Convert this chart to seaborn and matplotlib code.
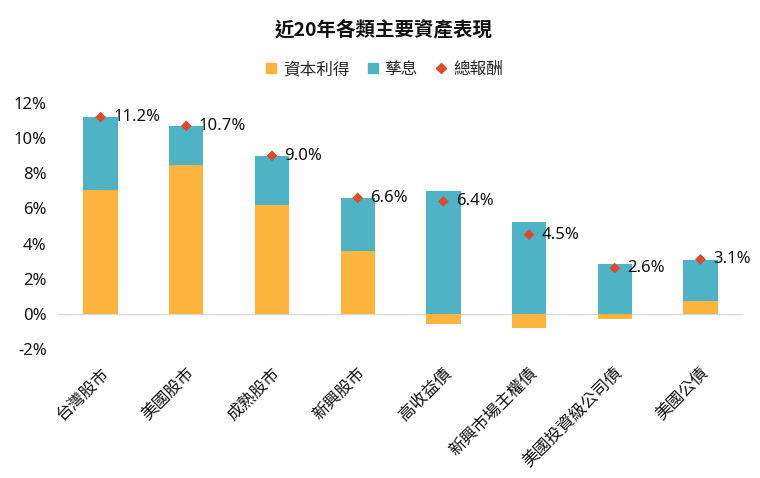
import numpy as np
import pandas as pd
import matplotlib
matplotlib.use("Agg")
import matplotlib.pyplot as plt
import seaborn as sns
from matplotlib.lines import Line2D

# data (percent)
categories = ["台灣股市", "美國股市", "成熟股市", "新興股市", "高收益債", "新興市場主權債", "美國投資級公司債", "美國公債"]
capital_gain = [7.05, 8.45, 6.2, 3.55, -0.6, -0.8, -0.3, 0.75]
income = [4.15, 2.25, 2.8, 3.05, 7.0, 5.2, 2.85, 2.3]
total_return = [11.2, 10.7, 9.0, 6.6, 6.4, 4.5, 2.6, 3.1]

ORANGE = "#FDB43D"
TEAL = "#4DB3C5"
RED = "#DE4A2C"

sns.set_theme(style="white")
plt.rcParams["font.family"] = ["Noto Sans", "Noto Sans CJK TC", "DejaVu Sans"]

df = pd.DataFrame({"cat": categories, "cap": capital_gain, "inc": income, "tot": total_return})
# teal segment sits on top of positive capital gain, or starts at zero
df["stack_top"] = df["cap"].clip(lower=0) + df["inc"]

fig = plt.figure(figsize=(7.6, 4.78), dpi=100)
ax = fig.add_axes([0.076, 0.270, 0.902, 0.5145])

sns.barplot(data=df, x="cat", y="stack_top", color=TEAL, width=0.4, saturation=1,
            linewidth=0, ax=ax)
sns.barplot(data=df, x="cat", y="cap", color=ORANGE, width=0.4, saturation=1,
            linewidth=0, ax=ax)
sns.scatterplot(x=np.arange(len(df)), y=df["tot"], marker="D", s=30, color=RED,
                edgecolor="none", ax=ax, zorder=5)

for i, v in enumerate(df["tot"]):
    ax.annotate(f"{v:.1f}%", (i, v), xytext=(9, 0), textcoords="offset points",
                va="center", ha="left", fontsize=12, color="#111111")

ax.axhline(0, color="#d9d9d9", lw=1, zorder=0)
ax.set_xlim(-0.5, len(df) - 0.5)
ax.set_ylim(-2, 12)
ax.set_yticks(np.arange(-2, 13, 2))
ax.set_yticklabels([f"{t}%" for t in range(-2, 13, 2)], fontsize=12, color="#111111")
ax.set_xticks(range(len(df)))
ax.set_xticklabels(categories, rotation=45, ha="right", rotation_mode="anchor",
                   fontsize=12, color="#111111")
ax.tick_params(axis="y", length=0, pad=8)
ax.tick_params(axis="x", length=0, pad=12)
ax.set_xlabel("")
ax.set_ylabel("")
for s in ax.spines.values():
    s.set_visible(False)

handles = [
    Line2D([], [], marker="s", ls="none", color=ORANGE, markersize=7, label="資本利得"),
    Line2D([], [], marker="s", ls="none", color=TEAL, markersize=7, label="孳息"),
    Line2D([], [], marker="D", ls="none", color=RED, markersize=5, label="總報酬"),
]
fig.legend(handles=handles, loc="center", bbox_to_anchor=(0.505, 0.853), ncol=3,
           frameon=False, fontsize=12, handlelength=0.8, handletextpad=0.3,
           columnspacing=1.0)

fig.suptitle("近20年各類主要資產表現", x=0.505, y=0.96, fontsize=14, fontweight="bold",
             color="#111111", family=["Noto Sans CJK TC", "DejaVu Sans"])

fig.savefig("out.png", dpi=100)
